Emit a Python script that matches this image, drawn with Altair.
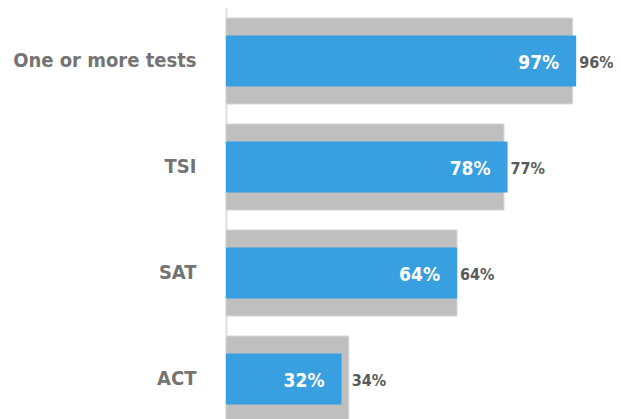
import altair as alt
import pandas as pd

categories = ["One or more tests", "TSI", "SAT", "ACT"]
current = [97, 78, 64, 32]
previous = [96, 77, 64, 34]

df = pd.DataFrame({"cat": categories, "cur": current, "prev": previous})

FONT = "'DejaVu Sans Condensed', 'Roboto Condensed', Roboto, sans-serif"
BLUE = "#38A0E0"
GRAY = "#BFBFBF"

y = alt.Y("cat:N", sort=categories,
          scale=alt.Scale(paddingInner=20/106, paddingOuter=10/106),
          axis=alt.Axis(title=None, ticks=False, labelFont=FONT, labelFontSize=20,
                        labelFontWeight="bold", labelColor="#747474", labelPadding=30,
                        domainColor="#E0E0E0", domainWidth=2, labelLimit=300))
xs = alt.Scale(domain=[0, 100])

base = alt.Chart(df)
gray = base.mark_bar(size=86, color=GRAY, stroke="#D6D6D6", strokeWidth=1).encode(
    x=alt.X("prev:Q", scale=xs, axis=None), y=y)
blue = base.mark_bar(size=51, color=BLUE).encode(
    x=alt.X("cur:Q", scale=xs, axis=None), y=y)
blue_txt = base.transform_calculate(lbl="datum.cur + '%'").mark_text(
    align="right", baseline="middle", dx=-17, dy=2, font=FONT,
    fontSize=19, fontWeight="bold", color="white").encode(
    x=alt.X("cur:Q", scale=xs), y=y, text="lbl:N")
gray_txt = base.transform_calculate(
    mx="max(datum.cur, datum.prev)", lbl="datum.prev + '%'"
).mark_text(align="left", baseline="middle", dx=3, dy=2, font=FONT, fontSize=16,
            fontWeight="bold", color="#5A5A5A").encode(
    x=alt.X("mx:Q", scale=xs), y=y, text="lbl:N")

chart = alt.layer(gray, blue, blue_txt, gray_txt).properties(
    width=361, height=424,
    autosize=alt.AutoSizeParams(type="none"),
    padding={"left": 218, "top": 0, "right": 26, "bottom": 0},
).configure_view(stroke=None)

chart.save("out.html", embed_options={"renderer": "svg", "actions": False})
